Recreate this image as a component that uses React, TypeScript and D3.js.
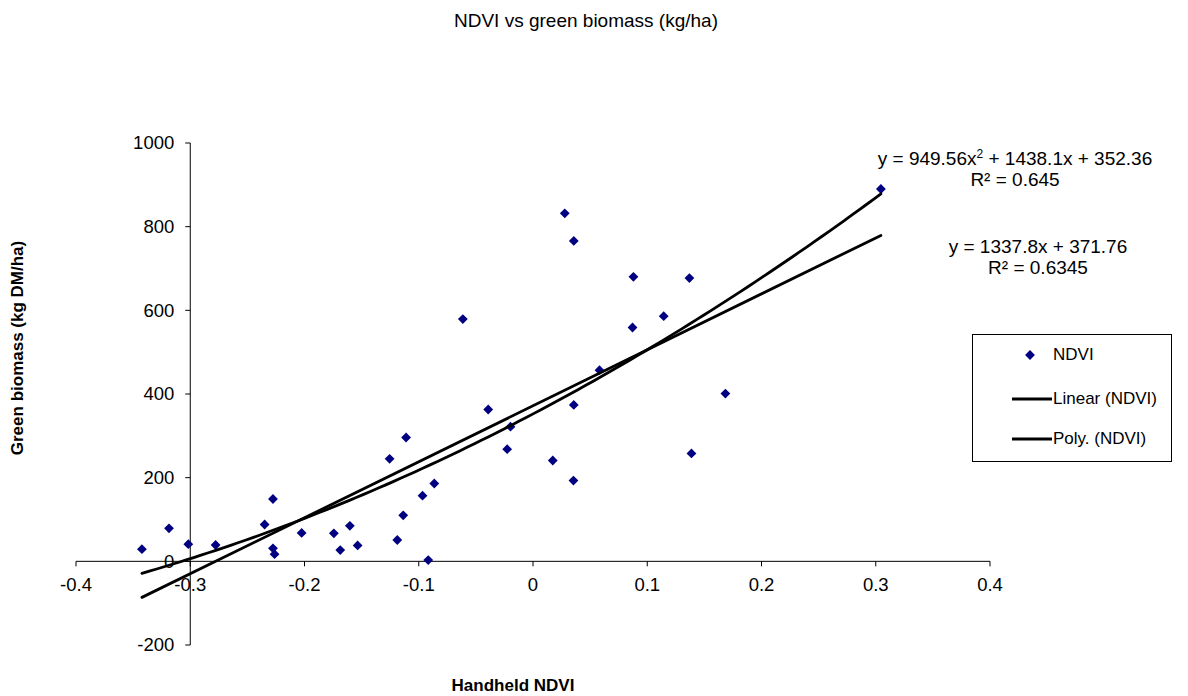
import React from "react";
import * as d3 from "d3";

const ndvi = [
  -0.3423, -0.3186, -0.3017, -0.2778, -0.2349, -0.2276, -0.2276, -0.2262, -0.2025, -0.1743,
  -0.1687, -0.1603, -0.1535, -0.1255, -0.1188, -0.1136, -0.1111, -0.0967, -0.0917, -0.0864,
  -0.0614, -0.0392, -0.0226, -0.0197, 0.0173, 0.0278, 0.0357, 0.0357, 0.0354, 0.0582,
  0.0879, 0.0871, 0.1144, 0.1369, 0.1387, 0.1684, 0.3045,
];
const biomass = [
  29, 79, 41, 39, 88, 149, 31, 17, 68, 67,
  27, 85, 38, 245, 51, 110, 296, 157, 3, 186,
  579, 363, 268, 322, 241, 832, 766, 374, 193, 457,
  680, 559, 586, 677, 258, 401, 890,
];
const xTicks = [-0.4, -0.3, -0.2, -0.1, 0, 0.1, 0.2, 0.3, 0.4];
const yTicks = [-200, 0, 200, 400, 600, 800, 1000];
const linCoef = [1337.8, 371.76];
const polyCoef = [949.56, 1438.1, 352.36];

const FONT = '"Liberation Sans", Arial, sans-serif';

export default function App() {
  const W = 1188, H = 696;
  const x = d3.scaleLinear().domain([-0.4, 0.4]).range([76, 990]);
  const y = d3.scaleLinear().domain([-200, 1000]).range([645, 143]);
  const x0 = x(-0.3);
  const y0 = y(0);
  const pts = ndvi.map((v, i) => ({ x: v, y: biomass[i] }));
  const [xmin, xmax] = d3.extent(ndvi) as [number, number];
  const line = d3.line<[number, number]>().x(d => x(d[0])).y(d => y(d[1]));
  const linPts: [number, number][] = [xmin, xmax].map(v => [v, linCoef[0] * v + linCoef[1]]);
  const polyPts: [number, number][] = d3.range(0, 101).map(i => {
    const v = xmin + (xmax - xmin) * i / 100;
    return [v, polyCoef[0] * v * v + polyCoef[1] * v + polyCoef[2]];
  });
  const diamond = d3.symbol().type(d3.symbolSquare).size(48)() as string;
  const fmt = (v: number) => (v === 0 ? "0" : String(v));

  return (
    <svg width={W} height={H} style={{ position: "absolute", left: 0, top: 0, background: "#fff" }} fontFamily={FONT}>
      <rect x={0} y={0} width={W} height={H} fill="#fff" />
      <text x={586} y={27} textAnchor="middle" fontSize={19} fill="#000">NDVI vs green biomass (kg/ha)</text>

      {/* axes */}
      <line x1={x(-0.4)} x2={x(0.4)} y1={y0} y2={y0} stroke="#000" strokeWidth={1} />
      <line x1={x0} x2={x0} y1={y(1000)} y2={y(-200)} stroke="#000" strokeWidth={1} />
      {yTicks.map(t => (
        <g key={"y" + t}>
          <line x1={x0 - 5} x2={x0} y1={y(t)} y2={y(t)} stroke="#000" />
          <text x={x0 - 16} y={y(t)} dy="0.35em" textAnchor="end" fontSize={18.5} fill="#000">{fmt(t)}</text>
        </g>
      ))}
      {xTicks.map(t => (
        <g key={"x" + t}>
          <line x1={x(t)} x2={x(t)} y1={y0} y2={y0 + 5} stroke="#000" />
          <text x={x(t)} y={591} textAnchor="middle" fontSize={18.5} fill="#000">{fmt(t)}</text>
        </g>
      ))}

      {/* points */}
      {pts.map((p, i) => (
        <path key={i} d={diamond} transform={`translate(${x(p.x)},${y(p.y)}) rotate(45)`} fill="#000080" />
      ))}

      {/* trendlines */}
      <path d={line(linPts) as string} fill="none" stroke="#000" strokeWidth={2.8} strokeLinecap="round" />
      <path d={line(polyPts) as string} fill="none" stroke="#000" strokeWidth={2.8} strokeLinecap="round" />

      {/* equations */}
      <text x={1015} y={165} textAnchor="middle" fontSize={19} fill="#000">
        y = 949.56x<tspan dy={-7} fontSize={12}>2</tspan><tspan dy={7}> + 1438.1x + 352.36</tspan>
      </text>
      <text x={1015} y={186} textAnchor="middle" fontSize={19} fill="#000">R² = 0.645</text>
      <text x={1038} y={253} textAnchor="middle" fontSize={19} fill="#000">y = 1337.8x + 371.76</text>
      <text x={1038} y={274} textAnchor="middle" fontSize={19} fill="#000">R² = 0.6345</text>

      {/* legend */}
      <rect x={972.5} y={334.5} width={199} height={127} fill="#fff" stroke="#000" strokeWidth={1} />
      <path d={diamond} transform={`translate(1030,355) rotate(45)`} fill="#000080" />
      <text x={1053} y={360} fontSize={17} fill="#000">NDVI</text>
      <line x1={1012} x2={1052} y1={399} y2={399} stroke="#000" strokeWidth={2.8} />
      <text x={1053} y={404} fontSize={17} fill="#000">Linear (NDVI)</text>
      <line x1={1012} x2={1052} y1={439} y2={439} stroke="#000" strokeWidth={2.8} />
      <text x={1053} y={444} fontSize={17} fill="#000">Poly. (NDVI)</text>

      {/* axis titles */}
      <text transform="translate(23,348) rotate(-90)" textAnchor="middle" fontSize={17} fontWeight="bold" fill="#000">Green biomass (kg DM/ha)</text>
      <text x={513} y={691} textAnchor="middle" fontSize={17} fontWeight="bold" fill="#000">Handheld NDVI</text>
    </svg>
  );
}
